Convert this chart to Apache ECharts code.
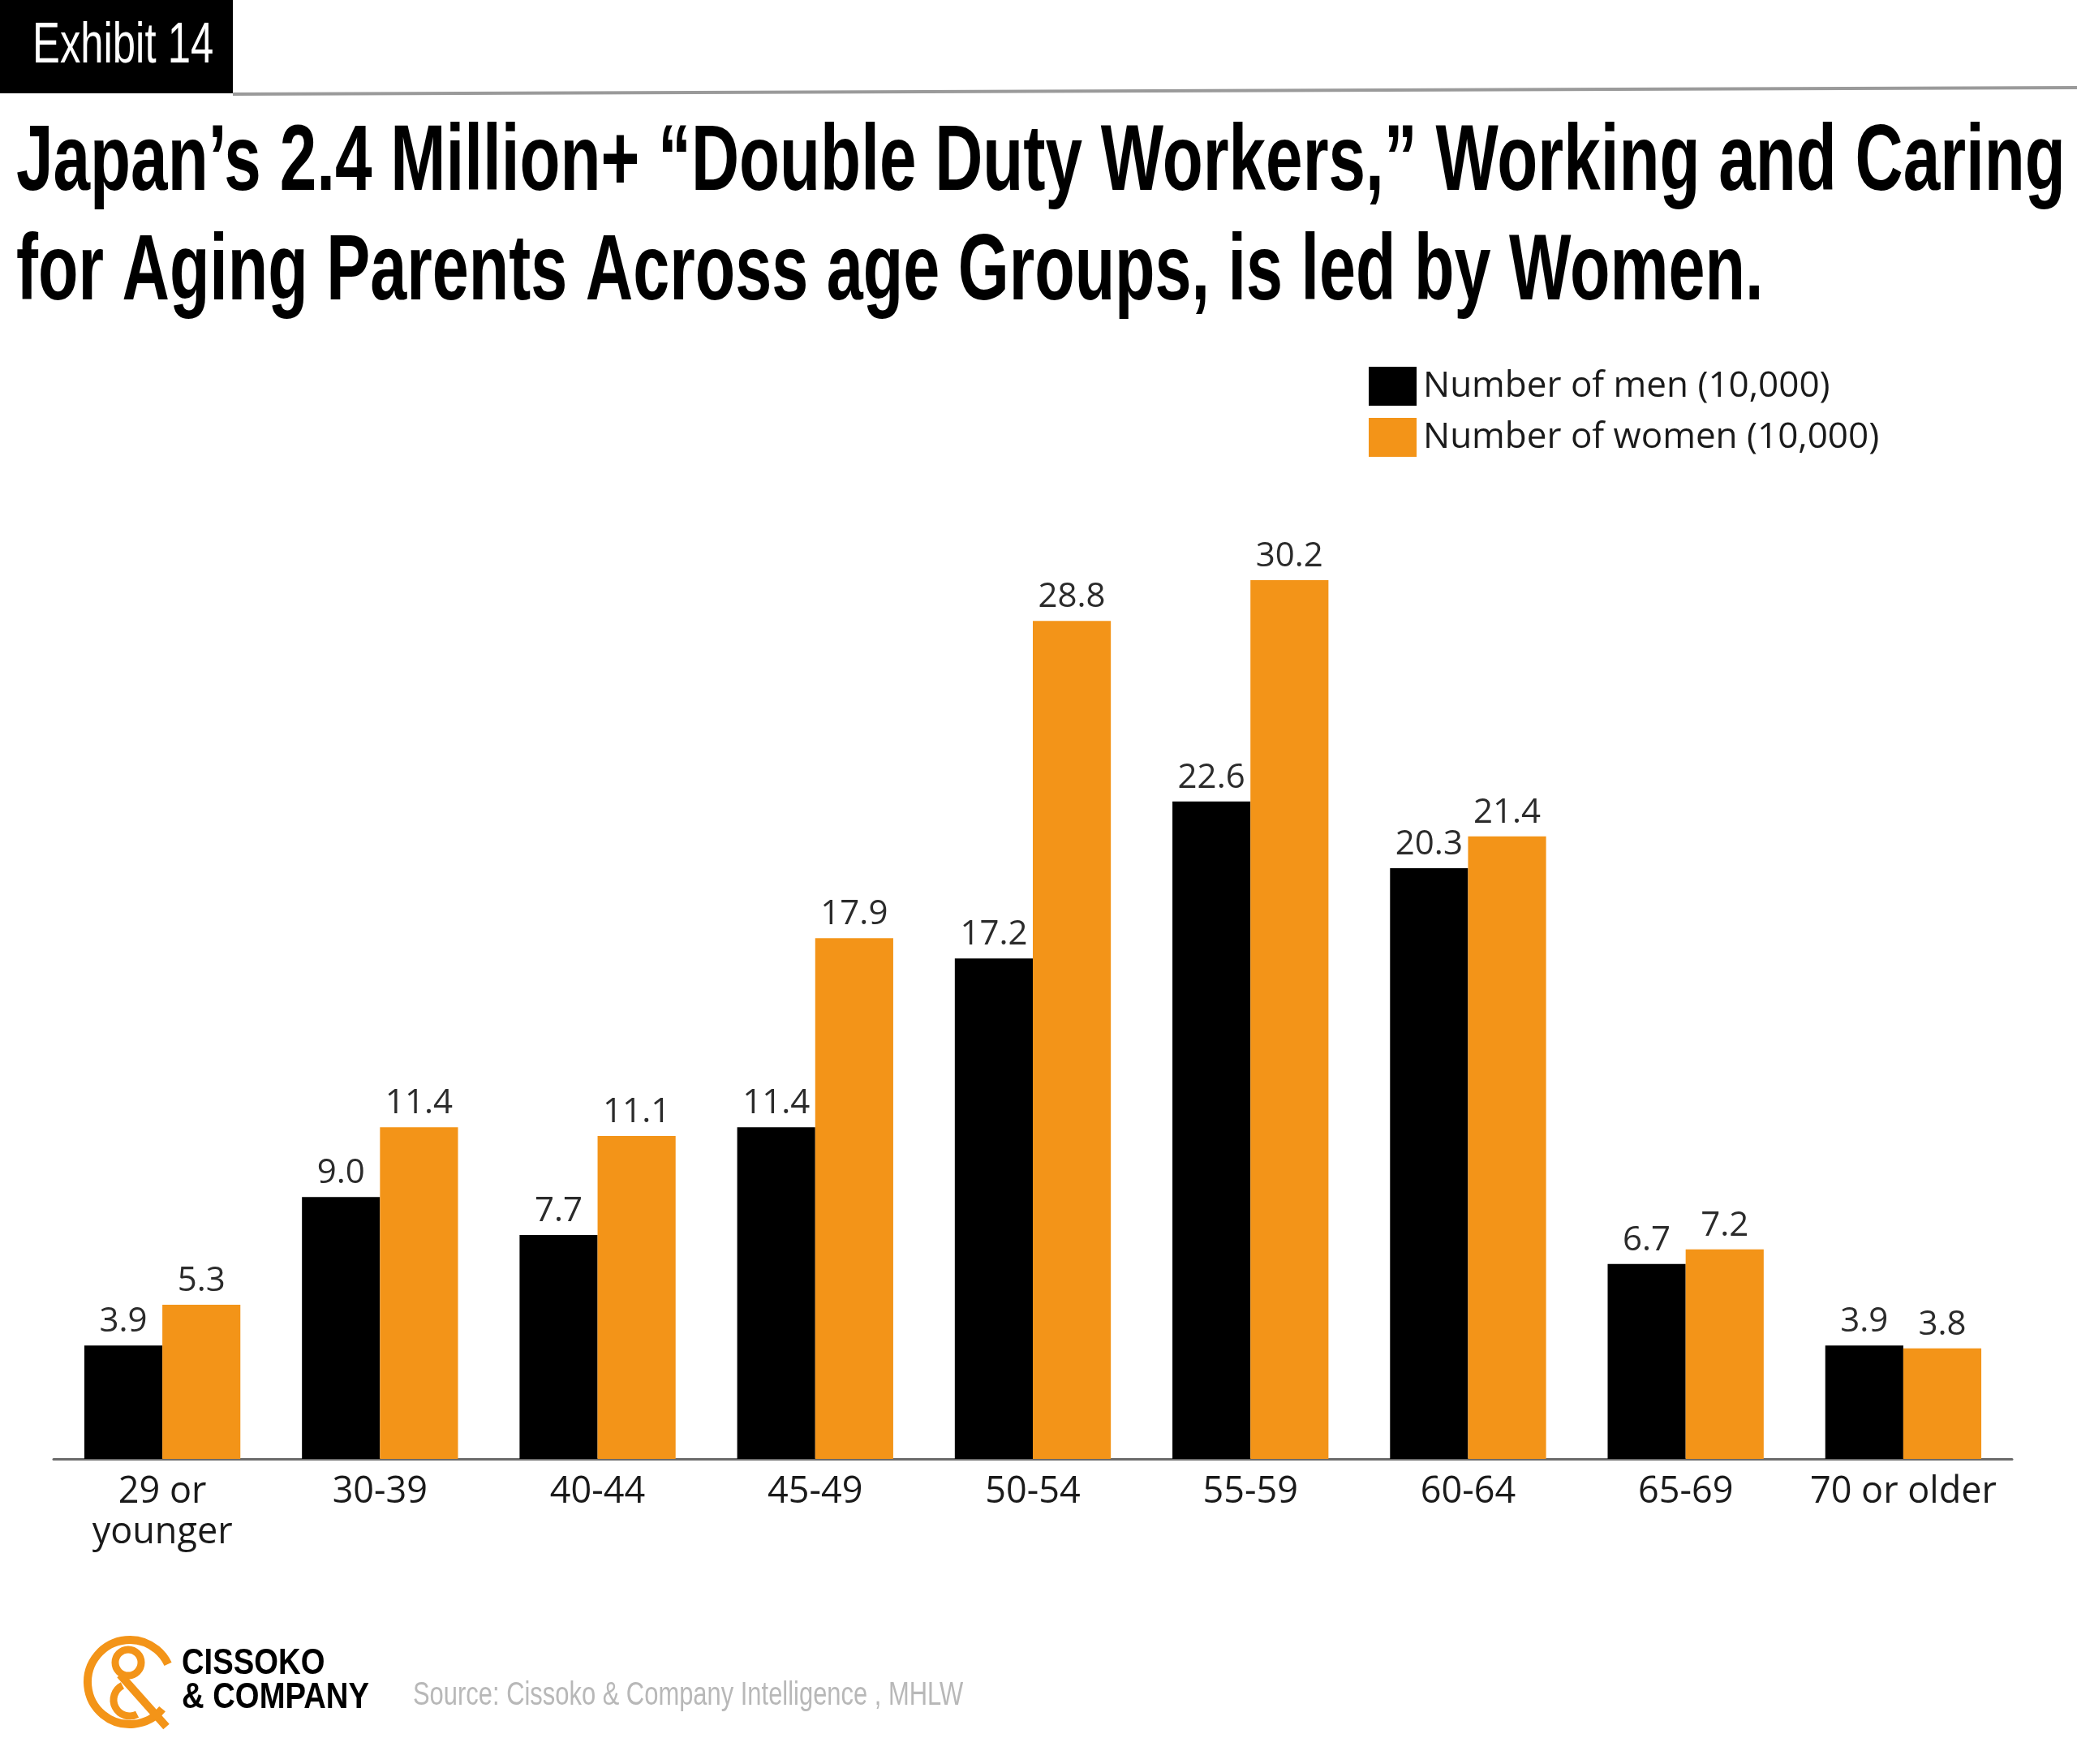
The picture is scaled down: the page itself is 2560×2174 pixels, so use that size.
<!DOCTYPE html>
<html>
<head>
<meta charset="utf-8">
<title>Exhibit 14</title>
<style>
    html, body { margin: 0; padding: 0; background: #fff; }
    #main { width: 2560px; height: 2174px; }
</style>
<script src="https://cdn.jsdelivr.net/npm/echarts@6.0.0/dist/echarts.min.js"></script>
</head>
<body>
<div id="main"></div>
<script>
    var ageGroups = ['29 or\nyounger', '30-39', '40-44', '45-49', '50-54', '55-59', '60-64', '65-69', '70 or older'];
    var menValues = [3.9, 9.0, 7.7, 11.4, 17.2, 22.6, 20.3, 6.7, 3.9];
    var womenValues = [5.3, 11.4, 11.1, 17.9, 28.8, 30.2, 21.4, 7.2, 3.8];
    var seriesNames = ['Number of men (10,000)', 'Number of women (10,000)'];

    var ORANGE = '#F39418';
    var labelFont = '"Open Sans", "Noto Sans", sans-serif';

    var myChart = echarts.init(document.getElementById('main'));
    option = {
        backgroundColor: '#ffffff',
        animation: false,
        color: ['#000000', ORANGE],
        legend: {
            orient: 'vertical',
            left: 1682,
            top: 447,
            icon: 'rect',
            itemWidth: 59,
            itemHeight: 48,
            itemGap: 15,
            textStyle: {
                fontFamily: labelFont,
                fontSize: 44,
                color: '#1a1a1a',
                padding: [0, 0, 0, 3]
            },
            data: seriesNames
        },
        grid: {
            left: 66,
            right: 80,
            top: 543,
            bottom: 376
        },
        xAxis: {
            type: 'category',
            data: ageGroups,
            axisTick: { show: false },
            axisLine: { lineStyle: { color: '#6b6b6b', width: 3 } },
            axisLabel: {
                fontFamily: labelFont,
                fontSize: 45,
                lineHeight: 50,
                color: '#1a1a1a',
                margin: 16,
                interval: 0
            }
        },
        yAxis: {
            type: 'value',
            min: 0,
            max: 35,
            show: false,
            splitLine: { show: false }
        },
        series: [
            {
                name: seriesNames[0],
                type: 'bar',
                data: menValues,
                barGap: '0%',
                barCategoryGap: '28.3%',
                label: {
                    show: true,
                    position: 'top',
                    distance: 8,
                    fontFamily: labelFont,
                    fontSize: 42,
                    color: '#2b2b2b',
                    formatter: function (p) { return p.value.toFixed(1); }
                }
            },
            {
                name: seriesNames[1],
                type: 'bar',
                data: womenValues,
                barGap: '0%',
                barCategoryGap: '28.3%',
                label: {
                    show: true,
                    position: 'top',
                    distance: 8,
                    fontFamily: labelFont,
                    fontSize: 42,
                    color: '#2b2b2b',
                    formatter: function (p) { return p.value.toFixed(1); }
                }
            }
        ],
        graphic: [
            // exhibit tag + rule
            { type: 'rect', shape: { x: 0, y: 0, width: 287, height: 115 }, style: { fill: '#000' } },
            {
                type: 'text', x: 40, y: 58, scaleX: 0.726,
                style: { text: 'Exhibit 14', fill: '#fff', font: '70px "Liberation Sans", Arial, sans-serif', verticalAlign: 'middle' }
            },
            { type: 'line', shape: { x1: 287, y1: 116, x2: 2560, y2: 108 }, style: { stroke: '#9a9a9a', lineWidth: 4 } },
            // title
            {
                type: 'text', x: 20, y: 202, scaleX: 0.712,
                style: { text: 'Japan\u2019s 2.4 Million+ \u201cDouble Duty Workers,\u201d Working and Caring', fill: '#000', font: 'bold 115px "Liberation Sans", Arial, sans-serif', verticalAlign: 'middle' }
            },
            {
                type: 'text', x: 20, y: 337, scaleX: 0.704,
                style: { text: 'for Aging Parents Across age Groups, is led by Women.', fill: '#000', font: 'bold 115px "Liberation Sans", Arial, sans-serif', verticalAlign: 'middle' }
            },
            // logo
            { type: 'arc', shape: { cx: 160, cy: 2073, r: 52, startAngle: Math.PI * 0.22, endAngle: Math.PI * 1.86, clockwise: true }, style: { stroke: ORANGE, lineWidth: 10, fill: null } },
            { type: 'circle', shape: { cx: 158, cy: 2049, r: 16 }, style: { stroke: ORANGE, lineWidth: 9, fill: null } },
            { type: 'line', shape: { x1: 148, y1: 2064, x2: 205, y2: 2128 }, style: { stroke: ORANGE, lineWidth: 10 } },
            { type: 'arc', shape: { cx: 160, cy: 2095, r: 20, startAngle: Math.PI * 0.35, endAngle: Math.PI * 1.35, clockwise: true }, style: { stroke: ORANGE, lineWidth: 9, fill: null } },
            {
                type: 'text', x: 224, y: 2051, scaleX: 0.85,
                style: { text: 'CISSOKO', fill: '#000', font: 'bold 45px "Liberation Sans", Arial, sans-serif', verticalAlign: 'middle' }
            },
            {
                type: 'text', x: 224, y: 2093, scaleX: 0.85,
                style: { text: '& COMPANY', fill: '#000', font: 'bold 45px "Liberation Sans", Arial, sans-serif', verticalAlign: 'middle' }
            },
            {
                type: 'text', x: 509, y: 2090, scaleX: 0.754,
                style: { text: 'Source: Cissoko & Company Intelligence , MHLW', fill: '#b8b8b8', font: '41px "Liberation Sans", Arial, sans-serif', verticalAlign: 'middle' }
            }
        ]
    };
    myChart.setOption(option);
</script>
</body>
</html>
